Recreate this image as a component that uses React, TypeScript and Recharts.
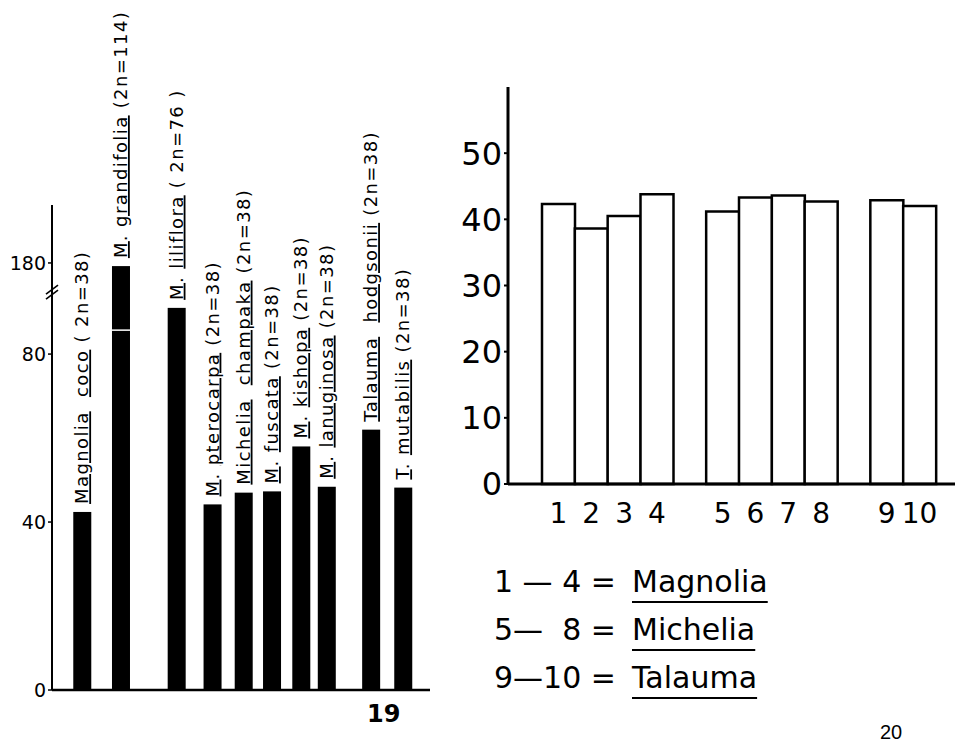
import React from 'react';
import { BarChart, Bar, XAxis, YAxis, LabelList, ReferenceDot, ReferenceLine } from 'recharts';

// Left figure: species, chromosome numbers, bar heights
const leftNames = [
  'Magnolia  coco',
  'M. grandifolia',
  'M. liliflora',
  'M. pterocarpa',
  'Michelia  champaka',
  'M. fuscata',
  'M. kishopa',
  'M. lanuginosa',
  'Talauma  hodgsonii',
  'T. mutabilis',
];
const leftCounts = ['( 2n=38)', '(2n=114)', '( 2n=76 )', '(2n=38)', '(2n=38)', '(2n=38)', '(2n=38)', '(2n=38)', '(2n=38)', '(2n=38)'];
const leftValues = [42.4, 177, 91, 44.2, 47, 47.3, 58, 48.4, 62, 48.2];
// bars in the original are not evenly spaced: slot index along the axis
const leftSlots = [0, 4.1, 10, 13.8, 17.1, 20.1, 23.2, 25.9, 30.6, 34];
const leftTicks = [0, 40, 80, 180];

// Right figure
const rightGroups = [['1', '2', '3', '4'], ['5', '6', '7', '8'], ['9', '10']];
const rightValues = [42.3, 38.6, 40.5, 43.8, 41.2, 43.3, 43.6, 42.7, 42.9, 42];
const rightTicks = [0, 10, 20, 30, 40, 50];
const legendRows = [
  ['1 — 4 =', 'Magnolia'],
  ['5—  8 =', 'Michelia'],
  ['9—10 =', 'Talauma'],
];

const FONT = '"DejaVu Sans", sans-serif';

// broken axis: to scale up to the break, compressed above it
const BREAK_AT = 95;
const BAR_CUT = 85.7;
const toAxis = (v: number) => (v <= BREAK_AT ? v : 101.7 + (v - 180) / 4);
const leftDomain: [number, number] = [-3.18, 36.86];

const leftData = leftValues.map((v, i) => ({
  slot: leftSlots[i],
  value: toAxis(v),
  raw: v,
}));

const rightData: { name: string; value: number | null }[] = [];
let k = 0;
rightGroups.forEach((g, gi) => {
  if (gi > 0) rightData.push({ name: ' '.repeat(gi), value: null });
  g.forEach((name) => {
    rightData.push({ name, value: rightValues[k++] });
  });
});

function BrokenBar(props: any) {
  const { x, y, width, height, payload } = props;
  const cut = payload.raw > BREAK_AT ? y + height * (1 - BAR_CUT / payload.value) : null;
  return (
    <g>
      <rect x={x} y={y} width={width} height={height} fill="#000" />
      {cut !== null && <line x1={x} x2={x + width} y1={cut} y2={cut} stroke="#fff" strokeWidth={1.5} />}
    </g>
  );
}

function SpeciesLabel(props: any) {
  const { x, y, width, index } = props;
  const cx = x + width / 2;
  const words = leftNames[index].split(/(\s+)/);
  return (
    <text
      transform={`translate(${cx + 6},${y - 8}) rotate(-90)`}
      fontSize={18}
      letterSpacing={1.4}
      fontFamily={FONT}
      fill="#000"
      style={{ whiteSpace: 'pre' }}
    >
      {words.map((w, i) => {
        if (/^\s+$/.test(w)) return <tspan key={i}>{w}</tspan>;
        const dot = w.endsWith('.');
        return (
          <React.Fragment key={i}>
            <tspan textDecoration="underline">{dot ? w.slice(0, -1) : w}</tspan>
            {dot && <tspan>.</tspan>}
          </React.Fragment>
        );
      })}
      <tspan> {leftCounts[index]}</tspan>
    </text>
  );
}

function AxisBreak(props: any) {
  const { cx, cy } = props;
  return (
    <g stroke="#000" strokeWidth={1.6}>
      <line x1={cx - 6} y1={cy + 3} x2={cx + 6} y2={cy - 6} />
      <line x1={cx - 6} y1={cy + 8} x2={cx + 6} y2={cy - 1} />
    </g>
  );
}

export default function App() {
  return (
    <div
      style={{
        position: 'absolute',
        left: 0,
        top: 0,
        width: 955,
        height: 742,
        overflow: 'hidden',
        background: '#fff',
        fontFamily: FONT,
      }}
    >
      <div style={{ position: 'absolute', left: 0, top: 0 }}>
        <BarChart width={440} height={742} data={leftData} margin={{ top: 205, right: 10, bottom: 52, left: 0 }}>
          <XAxis dataKey="slot" type="number" domain={leftDomain} hide />
          <YAxis
            type="number"
            domain={[0, 115.5]}
            ticks={leftTicks.map(toAxis)}
            tickFormatter={(v: number) => String(leftTicks[leftTicks.map(toAxis).indexOf(v)])}
            width={52}
            tickSize={4}
            tickMargin={2}
            tick={{ fill: '#000', fontSize: 19, fontFamily: FONT }}
            tickLine={{ stroke: '#000', strokeWidth: 1.5 }}
            axisLine={{ stroke: '#000', strokeWidth: 2 }}
          />
          <Bar dataKey="value" barSize={18} shape={<BrokenBar />} isAnimationActive={false}>
            <LabelList dataKey="value" content={(p: any) => <SpeciesLabel {...p} />} />
          </Bar>
          <ReferenceLine y={0} stroke="#000" strokeWidth={2.5} />
          <ReferenceDot x={leftDomain[0]} y={BREAK_AT} r={0} shape={(p: any) => <AxisBreak {...p} />} />
        </BarChart>
      </div>

      <div style={{ position: 'absolute', left: 440, top: 0 }}>
        <BarChart width={515} height={560} data={rightData} barCategoryGap={0} margin={{ top: 87, right: 0, bottom: 0, left: 0 }}>
          <XAxis
            dataKey="name"
            height={76}
            padding={{ left: 34, right: 19 }}
            tickLine={false}
            tickSize={0}
            tickMargin={19}
            interval={0}
            tick={{ fill: '#000', fontSize: 28, fontFamily: FONT }}
            axisLine={{ stroke: '#000', strokeWidth: 3 }}
          />
          <YAxis
            domain={[0, 60]}
            ticks={rightTicks}
            width={68}
            tickSize={4}
            tickMargin={2}
            tick={{ fill: '#000', fontSize: 32, fontFamily: FONT }}
            tickLine={{ stroke: '#000', strokeWidth: 2 }}
            axisLine={{ stroke: '#000', strokeWidth: 3 }}
          />
          <Bar dataKey="value" fill="#fff" stroke="#000" strokeWidth={2.5} isAnimationActive={false} />
        </BarChart>
      </div>

      {legendRows.map(([range, genus], i) => (
        <React.Fragment key={genus}>
          <div
            style={{
              position: 'absolute',
              left: 494,
              top: 592 + i * 48 - 25,
              fontSize: 30,
              lineHeight: '30px',
              whiteSpace: 'pre',
            }}
          >
            {range}
          </div>
          <div
            style={{
              position: 'absolute',
              left: 632,
              top: 592 + i * 48 - 25,
              fontSize: 30,
              lineHeight: '30px',
              textDecoration: 'underline',
              textDecorationThickness: 2,
              textUnderlineOffset: 9,
            }}
          >
            {genus}
          </div>
        </React.Fragment>
      ))}

      <div style={{ position: 'absolute', left: 367, top: 702, fontSize: 24, fontWeight: 'bold', lineHeight: '24px' }}>19</div>
      <div
        style={{
          position: 'absolute',
          left: 880,
          top: 722,
          fontSize: 20,
          lineHeight: '20px',
          fontFamily: '"Liberation Sans", sans-serif',
        }}
      >
        20
      </div>
    </div>
  );
}
